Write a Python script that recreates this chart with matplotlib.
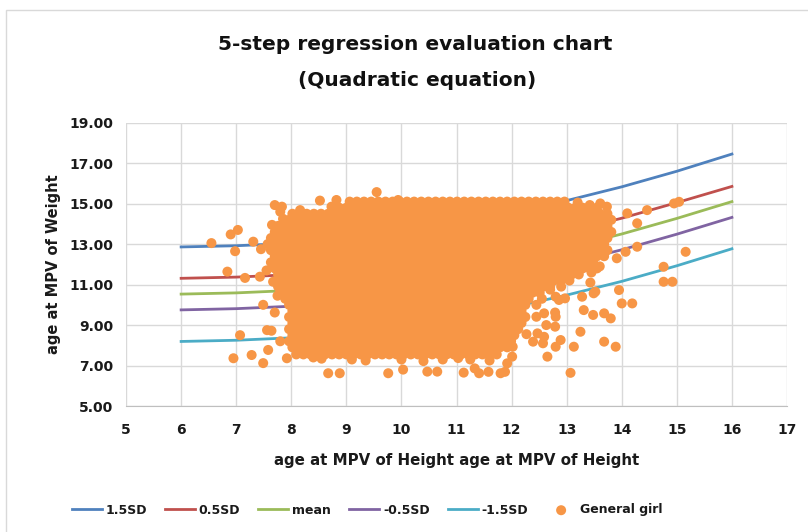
import numpy as np
import matplotlib.pyplot as plt
from matplotlib.patches import Rectangle

plt.rcParams['font.family'] = ['DejaVu Sans']

# regression curves (x = age at MPV of height)
age_h = [6, 7, 8, 9, 10, 11, 12, 13, 14, 15, 16]
sd_p15 = [12.86, 12.92, 13.04, 13.30, 13.63, 14.05, 14.55, 15.15, 15.83, 16.60, 17.45]
sd_p05 = [11.31, 11.37, 11.49, 11.75, 12.08, 12.50, 13.00, 13.60, 14.28, 15.05, 15.85]
sd_mean = [10.53, 10.59, 10.71, 10.97, 11.30, 11.72, 12.22, 12.82, 13.50, 14.27, 15.10]
sd_m05 = [9.75, 9.81, 9.93, 10.19, 10.52, 10.94, 11.44, 12.04, 12.72, 13.49, 14.32]
sd_m15 = [8.19, 8.25, 8.37, 8.63, 8.96, 9.38, 9.88, 10.48, 11.16, 11.93, 12.77]

# "General girl" scatter: the dense core is packed so tightly that single points
# can't be read, so it is stored as rows (y, left x, right x) over two staggered column sets
core_cols_a = [7.50, 7.63, 7.76, 7.89, 8.02, 8.15, 8.28, 8.41, 8.54, 8.67, 8.80,
               8.93, 9.06, 9.19, 9.32, 9.45, 9.58, 9.71, 9.84, 9.97, 10.10, 10.23,
               10.36, 10.49, 10.62, 10.75, 10.88, 11.01, 11.14, 11.27, 11.40, 11.53,
               11.66, 11.79, 11.92, 12.05, 12.18, 12.31, 12.44, 12.57, 12.70, 12.83,
               12.96, 13.09, 13.22, 13.35, 13.48, 13.61, 13.74, 13.87]
core_cols_b = [7.57, 7.70, 7.83, 7.96, 8.09, 8.22, 8.35, 8.48, 8.61, 8.74, 8.87,
               9.00, 9.13, 9.26, 9.39, 9.52, 9.65, 9.78, 9.91, 10.04, 10.17, 10.30,
               10.43, 10.56, 10.69, 10.82, 10.95, 11.08, 11.21, 11.34, 11.47, 11.60,
               11.73, 11.86, 11.99, 12.12, 12.25, 12.38, 12.51, 12.64, 12.77, 12.90,
               13.03, 13.16, 13.29, 13.42, 13.55, 13.68, 13.81, 13.94]
core_rows = [(15.10, 9.00, 13.05), (14.80, 8.75, 13.65), (14.50, 8.00, 13.80),
             (14.20, 7.90, 13.85), (13.90, 7.75, 13.85), (13.60, 7.65, 13.85),
             (13.30, 7.60, 13.80), (13.00, 7.55, 13.75), (12.70, 7.55, 13.75),
             (12.40, 7.60, 13.70), (12.10, 7.60, 13.60), (11.80, 7.65, 13.55),
             (11.50, 7.70, 13.25), (11.20, 7.75, 12.95), (10.90, 7.75, 12.70),
             (10.60, 7.75, 12.55), (10.30, 7.80, 12.40), (10.00, 7.90, 12.30),
             (9.70, 7.90, 12.30), (9.40, 7.95, 12.30), (9.10, 7.90, 12.25),
             (8.80, 7.95, 12.20), (8.50, 8.00, 12.15), (8.20, 7.85, 12.05),
             (7.90, 7.95, 11.95), (7.55, 8.05, 11.85)]

# separate points around the edge of the cloud
edge_x = [6.55, 6.90, 7.03, 6.98, 6.84, 7.16, 7.31, 7.45, 7.43, 7.70, 7.83, 7.80,
          8.16, 8.52, 8.73, 8.82, 9.55, 9.94, 7.55, 7.67, 7.49, 7.70, 7.07, 7.56,
          7.64, 6.95, 7.28, 7.49, 7.58, 7.92, 7.80, 7.75, 7.65, 7.85, 8.40, 8.55,
          8.67, 8.88,
          9.10, 9.35, 9.76, 10.03, 10.00, 10.40, 10.47, 10.65, 10.75, 11.03, 11.13,
          11.33, 11.25, 11.41, 11.58, 11.60, 11.80, 11.88, 11.92, 13.07,
          12.02, 12.01, 12.27, 12.39, 12.57, 12.65, 12.80, 12.89, 13.13, 12.47,
          12.59, 13.25, 12.45, 12.59, 12.63, 12.79, 12.80, 12.79, 13.31, 13.48,
          13.68, 13.80, 13.68, 13.89, 12.45, 12.55, 12.80, 12.86, 12.97, 13.28,
          13.49, 13.52, 13.43, 13.95, 14.00, 14.19, 12.70, 12.90, 13.05,
          13.45, 13.60, 13.91, 14.07, 14.28, 14.76, 14.76, 14.92, 15.16, 14.10,
          14.28, 14.46, 14.95, 15.04, 13.61, 13.73, 13.42, 13.20]
edge_y = [13.05, 13.48, 13.70, 12.65, 11.64, 11.33, 13.12, 12.75, 11.39, 14.93, 14.85, 14.60,
          14.68, 15.15, 14.85, 15.18, 15.57, 15.18, 11.70, 11.14, 10.00, 9.62, 8.50, 8.75,
          8.72, 7.36, 7.52, 7.12, 7.77, 7.36, 8.20, 10.45, 13.95, 14.25, 7.40, 7.34,
          6.62, 6.62,
          7.30, 7.25, 6.62, 6.80, 7.30, 7.22, 6.70, 6.70, 7.30, 7.37, 6.65,
          6.86, 7.30, 6.62, 6.69, 7.25, 6.62, 6.69, 7.11, 6.64,
          7.93, 7.44, 8.55, 8.18, 8.10, 7.44, 7.93, 8.26, 7.93, 8.59,
          8.42, 8.67, 9.41, 9.58, 9.00, 8.92, 9.41, 9.62, 9.74, 9.50,
          9.58, 9.33, 8.18, 7.93, 10.00, 10.30, 10.40, 10.24, 10.32, 10.40,
          10.57, 10.65, 11.10, 10.73, 10.07, 10.07, 10.75, 10.90, 11.20,
          11.60, 11.90, 12.30, 12.62, 12.87, 11.88, 11.14, 11.14, 12.62, 14.52,
          14.03, 14.68, 15.01, 15.09, 15.01, 14.85, 14.93, 15.05]

girl_x = []
girl_y = []
for i, (yv, lo, hi) in enumerate(core_rows):
    cols = core_cols_a if i % 2 == 0 else core_cols_b
    for xv in cols:
        if lo <= xv <= hi:
            girl_x.append(xv)
            girl_y.append(yv)
girl_x += edge_x
girl_y += edge_y

fig = plt.figure(figsize=(8.08, 5.32), dpi=100)
ax = fig.add_axes([0.156, 0.2368, 0.818, 0.5326])

# light frame of the chart area
fig.patches.append(Rectangle((6 / 808, -0.02), 1.0, 1 - 10 / 532 + 0.02,
                             transform=fig.transFigure, fill=False,
                             edgecolor='#d9d9d9', lw=1))

ax.plot(age_h, sd_p15, color='#4F81BD', lw=2, label='1.5SD', zorder=2)
ax.plot(age_h, sd_p05, color='#C0504D', lw=2, label='0.5SD', zorder=2)
ax.plot(age_h, sd_mean, color='#9BBB59', lw=2, label='mean', zorder=2)
ax.plot(age_h, sd_m05, color='#8064A2', lw=2, label='-0.5SD', zorder=2)
ax.plot(age_h, sd_m15, color='#4BACC6', lw=2, label='-1.5SD', zorder=2)
ax.scatter(girl_x, girl_y, s=52, color='#F79646', edgecolors='none',
           label='General girl', zorder=3)

ax.set_xlim(5, 17)
ax.set_ylim(5, 19)
ax.set_xticks(range(5, 18))
ax.set_yticks(np.arange(5, 20, 2))
ax.set_yticklabels(['%.2f' % v for v in np.arange(5, 20, 2)])
ax.grid(True, color='#d9d9d9', lw=1)
ax.set_axisbelow(True)
for s in ['top', 'right', 'left']:
    ax.spines[s].set_visible(False)
ax.spines['bottom'].set_color('#bfbfbf')
ax.tick_params(axis='both', length=0, labelsize=10, colors='#1a1a1a')
ax.tick_params(axis='x', pad=12)
ax.tick_params(axis='y', pad=9)
for lbl in ax.get_xticklabels() + ax.get_yticklabels():
    lbl.set_fontweight('bold')

ax.set_xlabel('age at MPV of Height age at MPV of Height', fontsize=10.8,
              fontweight='bold', color='#1a1a1a', labelpad=12)
ax.set_ylabel('age at MPV of Weight', fontsize=10.5, fontweight='bold',
              color='#1a1a1a', labelpad=6)

fig.text(415 / 808, 1 - 45 / 532, '5-step regression evaluation chart',
         ha='center', va='center', fontsize=14.5, fontweight='bold', color='#111111')
fig.text(417 / 808, 1 - 80 / 532, '(Quadratic equation)',
         ha='center', va='center', fontsize=14.5, fontweight='bold', color='#111111')

leg = fig.legend(loc='center', bbox_to_anchor=(367 / 808, 1 - 510 / 532), ncol=6,
                 frameon=False, handlelength=2.4, handletextpad=0.3,
                 columnspacing=1.45, prop={'size': 9, 'weight': 'bold'})
for t in leg.get_texts():
    t.set_color('#1a1a1a')

fig.savefig('out.png', dpi=100)
